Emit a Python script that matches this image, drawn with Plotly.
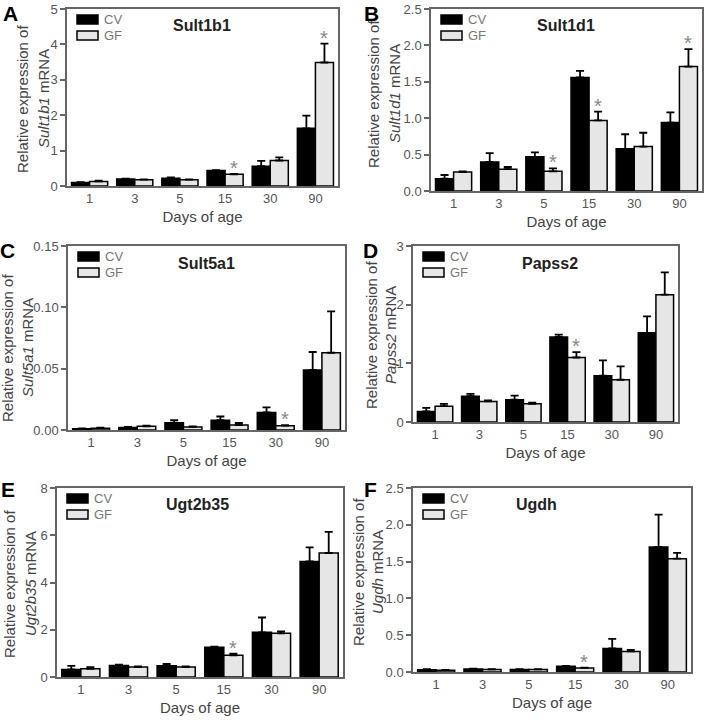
import plotly.graph_objects as go

W, H = 707, 720

days = ["1", "3", "5", "15", "30", "90"]
genes = ["Sult1b1", "Sult1d1", "Sult5a1", "Papss2", "Ugt2b35", "Ugdh"]
letters = ["A", "B", "C", "D", "E", "F"]

# Sult1b1
cv_A = [0.10, 0.20, 0.22, 0.44, 0.56, 1.63]
cv_err_A = [0.01, 0.01, 0.02, 0.01, 0.15, 0.36]
gf_A = [0.13, 0.18, 0.18, 0.33, 0.72, 3.49]
gf_err_A = [0.02, 0.01, 0.01, 0.01, 0.09, 0.53]
star_A = ["15", "90"]

# Sult1d1
cv_B = [0.17, 0.40, 0.47, 1.56, 0.58, 0.94]
cv_err_B = [0.05, 0.12, 0.06, 0.09, 0.20, 0.14]
gf_B = [0.26, 0.30, 0.27, 0.97, 0.61, 1.71]
gf_err_B = [0.01, 0.03, 0.04, 0.12, 0.19, 0.24]
star_B = ["5", "15", "90"]

# Sult5a1
cv_C = [0.001, 0.002, 0.006, 0.008, 0.0143, 0.049]
cv_err_C = [0.0003, 0.0005, 0.002, 0.003, 0.0041, 0.0146]
gf_C = [0.0015, 0.003, 0.0025, 0.004, 0.0035, 0.063]
gf_err_C = [0.0005, 0.0005, 0.0005, 0.0017, 0.0005, 0.0337]
star_C = ["30"]

# Papss2
cv_D = [0.18, 0.44, 0.38, 1.45, 0.79, 1.52]
cv_err_D = [0.06, 0.04, 0.07, 0.04, 0.26, 0.28]
gf_D = [0.27, 0.35, 0.31, 1.10, 0.72, 2.17]
gf_err_D = [0.04, 0.02, 0.02, 0.09, 0.23, 0.38]
star_D = ["15"]

# Ugt2b35
cv_E = [0.32, 0.49, 0.48, 1.26, 1.89, 4.89]
cv_err_E = [0.15, 0.03, 0.07, 0.02, 0.63, 0.60]
gf_E = [0.35, 0.42, 0.42, 0.92, 1.85, 5.25]
gf_err_E = [0.07, 0.03, 0.03, 0.07, 0.08, 0.89]
star_E = ["15"]

# Ugdh
cv_F = [0.03, 0.04, 0.035, 0.077, 0.32, 1.70]
cv_err_F = [0.01, 0.005, 0.005, 0.005, 0.13, 0.44]
gf_F = [0.025, 0.035, 0.035, 0.055, 0.28, 1.54]
gf_err_F = [0.005, 0.003, 0.003, 0.005, 0.02, 0.08]
star_F = ["15"]

ymax = [5, 2.5, 0.15, 3, 8, 2.5]
ytickvals = [[0, 1, 2, 3, 4, 5], [0, 0.5, 1.0, 1.5, 2.0, 2.5], [0, 0.05, 0.10, 0.15],
             [0, 1, 2, 3], [0, 2, 4, 6, 8], [0, 0.5, 1.0, 1.5, 2.0, 2.5]]
tickfmts = ["d", ".1f", ".2f", "d", "d", ".1f"]
ytitle1 = "Relative expression of"
ytitle2 = ["<i>Sult1b1</i> mRNA", "<i>Sult1d1</i> mRNA", "<i>Sult5a1</i> mRNA",
           "<i>Papss2</i> mRNA", "<i>Ugt2b35</i> mRNA", "<i>Ugdh</i> mRNA"]

cvs = [cv_A, cv_B, cv_C, cv_D, cv_E, cv_F]
cv_errs = [cv_err_A, cv_err_B, cv_err_C, cv_err_D, cv_err_E, cv_err_F]
gfs = [gf_A, gf_B, gf_C, gf_D, gf_E, gf_F]
gf_errs = [gf_err_A, gf_err_B, gf_err_C, gf_err_D, gf_err_E, gf_err_F]
stars = [star_A, star_B, star_C, star_D, star_E, star_F]

# plot-area boxes in pixels (left, top, right, bottom)
boxes = [(67, 9, 338, 186), (431, 9, 702, 191), (68, 246, 345, 430),
         (413, 246, 678, 422), (57, 488, 343, 677), (413, 488, 691, 672)]
title_dx = [135, 135, 138, 137, 140, 123]
letter_pos = [(10, 13), (371, 13), (7, 250), (370, 250), (8, 489), (370, 489)]
# y-title line centres: (x line1, x line2, y centre)
ytitle_pos = [(23, 44, 99), (374, 395, 94), (7, 27, 348),
              (371, 390, 335), (9, 30, 584), (358, 377, 572)]

FONT = "Liberation Sans, Arial, sans-serif"
AX = "#666666"
TXT = "#444444"

def px(x):
    return x / W

def py(y):
    return 1 - y / H

fig = go.Figure()
layout = dict(
    width=W, height=H, margin=dict(l=0, r=0, t=0, b=0, autoexpand=False),
    paper_bgcolor="white", plot_bgcolor="white", showlegend=False,
    barmode="group", bargap=0.2, bargroupgap=0.0,
    font=dict(family=FONT, color=TXT),
)
shapes = []
annotations = []

for i in range(6):
    n = "" if i == 0 else str(i + 1)
    xa, ya = "x" + n, "y" + n
    l, t, r, b = boxes[i]
    err_style = dict(type="data", symmetric=False, color="black", thickness=1.8, width=4)
    fig.add_trace(go.Bar(
        x=days, y=cvs[i], name="CV", xaxis=xa, yaxis=ya, offsetgroup="cv",
        marker=dict(color="black", line=dict(color="black", width=1.5)),
        error_y=dict(array=cv_errs[i], arrayminus=[0] * 6, **err_style)))
    fig.add_trace(go.Bar(
        x=days, y=gfs[i], name="GF", xaxis=xa, yaxis=ya, offsetgroup="gf",
        marker=dict(color="#e6e6e6", line=dict(color="black", width=1.5)),
        error_y=dict(array=gf_errs[i], arrayminus=[0] * 6, **err_style)))

    layout["xaxis" + n] = dict(
        domain=[px(l), px(r)], anchor=ya, type="category", automargin=False,
        categoryorder="array", categoryarray=days, range=[-0.5, 5.5],
        showline=True, linecolor=AX, linewidth=1.5, mirror=True,
        ticks="", showgrid=False, zeroline=False,
        tickfont=dict(size=13, color="#555555"),
        title=dict(text="Days of age", font=dict(size=15, color=TXT), standoff=6),
    )
    layout["yaxis" + n] = dict(
        domain=[py(b), py(t)], anchor=xa, range=[0, ymax[i] * 1.0002], automargin=False,
        tickmode="array", tickvals=ytickvals[i], tickformat=tickfmts[i],
        showline=True, linecolor=AX, linewidth=1.5, mirror=True,
        ticks="outside", ticklen=5, tickcolor=AX, tickwidth=1.5,
        showgrid=False, zeroline=False, ticklabeloverflow="allow",
        tickfont=dict(size=13, color="#555555"),
    )

    # y-axis title (two rotated lines)
    x1, x2, yc = ytitle_pos[i]
    for xx, txt in [(x1, ytitle1), (x2, ytitle2[i])]:
        annotations.append(dict(xref="paper", yref="paper", x=px(xx), y=py(yc),
                                text=txt, textangle=-90, showarrow=False,
                                xanchor="center", yanchor="middle", borderpad=0,
                                font=dict(size=15, color=TXT, family=FONT)))

    # legend boxes (CV black, GF light grey)
    for k, (fill, lab) in enumerate([("black", "CV"), ("#e6e6e6", "GF")]):
        y0 = t + 6 + k * 16
        shapes.append(dict(type="rect", xref="paper", yref="paper",
                           x0=px(l + 10), x1=px(l + 31), y0=py(y0 + 9), y1=py(y0),
                           fillcolor=fill, line=dict(color="black", width=1.5)))
        annotations.append(dict(xref="paper", yref="paper", x=px(l + 36), y=py(y0 + 4.5),
                                text=lab, showarrow=False, xanchor="left", yanchor="middle",
                                borderpad=0,
                                font=dict(size=13, color="#777777", family=FONT)))
    # gene title
    annotations.append(dict(xref="paper", yref="paper", x=px(l + title_dx[i]), y=py(t + 17),
                            text="<b>" + genes[i] + "</b>", showarrow=False,
                            xanchor="center", yanchor="middle",
                            font=dict(size=16, color="#222222", family=FONT)))
    # panel letter
    lx, ly = letter_pos[i]
    annotations.append(dict(xref="paper", yref="paper", x=px(lx), y=py(ly),
                            text="<b>" + letters[i] + "</b>", showarrow=False,
                            xanchor="center", yanchor="middle", borderpad=0,
                            font=dict(size=21, color="black", family=FONT)))
    # significance stars over GF bars
    for d in stars[i]:
        j = days.index(d)
        annotations.append(dict(xref=xa, yref=ya, x=j + 0.2, y=gfs[i][j] + gf_errs[i][j],
                                text="*", showarrow=False, xanchor="center", yanchor="bottom",
                                yshift=-7, font=dict(size=20, color="#888888", family=FONT)))

layout["shapes"] = shapes
layout["annotations"] = annotations
fig.update_layout(**layout)
fig.write_html("out.html", config={"displayModeBar": False},
               post_script="document.body.style.margin='0px';")
